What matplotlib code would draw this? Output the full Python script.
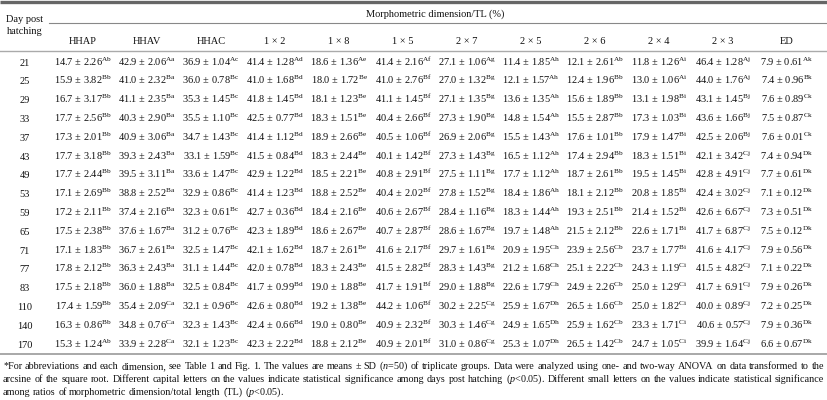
import matplotlib
matplotlib.use("Agg")
import matplotlib.pyplot as plt

plt.rcParams['font.family'] = ['Liberation Serif', 'DejaVu Serif']
plt.rcParams['mathtext.fontset'] = 'custom'
plt.rcParams['mathtext.rm'] = 'Liberation Serif'
plt.rcParams['mathtext.it'] = 'Liberation Serif:italic'
plt.rcParams['mathtext.bf'] = 'Liberation Serif:bold'

# ---------------- data ----------------
days = [21, 25, 29, 33, 37, 43, 49, 53, 59, 65, 71, 77, 83, 110, 140, 170]
col_labels = ["HHAP", "HHAV", "HHAC", "1 × 2", "1 × 8", "1 × 5", "2 × 7",
              "2 × 5", "2 × 6", "2 × 4", "2 × 3", "ED"]

HHAP = ["14.7 2.26 Ab", "15.9 3.82 Bb", "16.7 3.17 Bb", "17.7 2.56 Bb", "17.3 2.01 Bb", "17.7 3.18 Bb",
        "17.7 2.44 Bb", "17.1 2.69 Bb", "17.2 2.11 Bb", "17.5 2.38 Bb", "17.1 1.83 Bb", "17.8 2.12 Bb",
        "17.5 2.18 Bb", "17.4 1.59 Bb", "16.3 0.86 Bb", "15.3 1.24 Ab"]
HHAV = ["42.9 2.06 Aa", "41.0 2.32 Ba", "41.1 2.35 Ba", "40.3 2.90 Ba", "40.9 3.06 Ba", "39.3 2.43 Ba",
        "39.5 3.11 Ba", "38.8 2.52 Ba", "37.4 2.16 Ba", "37.6 1.67 Ba", "36.7 2.61 Ba", "36.3 2.43 Ba",
        "36.0 1.88 Ba", "35.4 2.09 Ca", "34.8 0.76 Ca", "33.9 2.28 Ca"]
HHAC = ["36.9 1.04 Ac", "36.0 0.78 Bc", "35.3 1.45 Bc", "35.5 1.10 Bc", "34.7 1.43 Bc", "33.1 1.59 Bc",
        "33.6 1.47 Bc", "32.9 0.86 Bc", "32.3 0.61 Bc", "31.2 0.76 Bc", "32.5 1.47 Bc", "31.1 1.44 Bc",
        "32.5 0.84 Bc", "32.1 0.96 Bc", "32.3 1.43 Bc", "32.1 1.23 Bc"]
R1x2 = ["41.4 1.28 Ad", "41.0 1.68 Bd", "41.8 1.45 Bd", "42.5 0.77 Bd", "41.4 1.12 Bd", "41.5 0.84 Bd",
        "42.9 1.22 Bd", "41.4 1.23 Bd", "42.7 0.36 Bd", "42.3 1.89 Bd", "42.1 1.62 Bd", "42.0 0.78 Bd",
        "41.7 0.99 Bd", "42.6 0.80 Bd", "42.4 0.66 Bd", "42.3 2.22 Bd"]
R1x8 = ["18.6 1.36 Ae", "18.0 1.72 Be", "18.1 1.23 Be", "18.3 1.51 Be", "18.9 2.66 Be", "18.3 2.44 Be",
        "18.5 2.21 Be", "18.8 2.52 Be", "18.4 2.16 Be", "18.6 2.67 Be", "18.7 2.61 Be", "18.3 2.43 Be",
        "19.0 1.88 Be", "19.2 1.38 Be", "19.0 0.80 Be", "18.8 2.12 Be"]
R1x5 = ["41.4 2.16 Af", "41.0 2.76 Bf", "41.1 1.45 Bf", "40.4 2.66 Bf", "40.5 1.06 Bf", "40.1 1.42 Bf",
        "40.8 2.91 Bf", "40.4 2.02 Bf", "40.6 2.67 Bf", "40.7 2.87 Bf", "41.6 2.17 Bf", "41.5 2.82 Bf",
        "41.7 1.91 Bf", "44.2 1.06 Bf", "40.9 2.32 Bf", "40.9 2.01 Bf"]
R2x7 = ["27.1 1.06 Ag", "27.0 1.32 Bg", "27.1 1.35 Bg", "27.3 1.90 Bg", "26.9 2.06 Bg", "27.3 1.43 Bg",
        "27.5 1.11 Bg", "27.8 1.52 Bg", "28.4 1.16 Bg", "28.6 1.67 Bg", "29.7 1.61 Bg", "28.3 1.43 Bg",
        "29.0 1.88 Bg", "30.2 2.25 Cg", "30.3 1.46 Cg", "31.0 0.86 Cg"]
R2x5 = ["11.4 1.85 Ah", "12.1 1.57 Ah", "13.6 1.35 Ah", "14.8 1.54 Ah", "15.5 1.43 Ah", "16.5 1.12 Ah",
        "17.7 1.12 Ah", "18.4 1.86 Ah", "18.3 1.44 Ah", "19.7 1.48 Ah", "20.9 1.95 Ch", "21.2 1.68 Ch",
        "22.6 1.79 Ch", "25.9 1.67 Dh", "24.9 1.65 Dh", "25.3 1.07 Dh"]
R2x6 = ["12.1 2.61 Ab", "12.4 1.96 Bb", "15.6 1.89 Bb", "15.5 2.87 Bb", "17.6 1.01 Bb", "17.4 2.94 Bb",
        "18.7 2.61 Bb", "18.1 2.12 Bb", "19.3 2.51 Bb", "21.5 2.12 Bb", "23.9 2.56 Cb", "25.1 2.22 Cb",
        "24.9 2.26 Cb", "26.5 1.66 Cb", "25.9 1.62 Cb", "26.5 1.42 Cb"]
R2x4 = ["11.8 1.26 Ai", "13.0 1.06 Ai", "13.1 1.98 Bi", "17.3 1.03 Bi", "17.9 1.47 Bi", "18.3 1.51 Bi",
        "19.5 1.45 Bi", "20.8 1.85 Bi", "21.4 1.52 Bi", "22.6 1.71 Bi", "23.7 1.77 Bi", "24.3 1.19 Ci",
        "25.0 1.29 Ci", "25.0 1.82 Ci", "23.3 1.71 Ci", "24.7 1.05 Ci"]
R2x3 = ["46.4 1.28 Aj", "44.0 1.76 Aj", "43.1 1.45 Bj", "43.6 1.66 Bj", "42.5 2.06 Bj", "42.1 3.42 Cj",
        "42.8 4.91 Cj", "42.4 3.02 Cj", "42.6 6.67 Cj", "41.7 6.87 Cj", "41.6 4.17 Cj", "41.5 4.82 Cj",
        "41.7 6.91 Cj", "40.0 0.89 Cj", "40.6 0.57 Cj", "39.9 1.64 Cj"]
ED = ["7.9 0.61 Ak", "7.4 0.96 Bk", "7.6 0.89 Ck", "7.5 0.87 Ck", "7.6 0.01 Ck", "7.4 0.94 Dk",
      "7.7 0.61 Dk", "7.1 0.12 Dk", "7.3 0.51 Dk", "7.5 0.12 Dk", "7.9 0.56 Dk", "7.1 0.22 Dk",
      "7.9 0.26 Dk", "7.2 0.25 Dk", "7.9 0.36 Dk", "6.6 0.67 Dk"]
columns = [HHAP, HHAV, HHAC, R1x2, R1x8, R1x5, R2x7, R2x5, R2x6, R2x4, R2x3, ED]

footnote = [
    "*For abbreviations and each dimension, see Table 1 and Fig. 1. The values are means ± SD ($\\mathit{n}$=50) of triplicate groups. Data were analyzed using one- and two-way ANOVA on data transformed to the",
    "arcsine of the square root. Different capital letters on the values indicate statistical significance among days post hatching ($\\mathit{p}$<0.05). Different small letters on the values indicate statistical significance",
    "among ratios of morphometric dimension/total length (TL) ($\\mathit{p}$<0.05).",
]

# ---------------- layout ----------------
W, H = 827, 400
fig = plt.figure(figsize=(W / 100, H / 100), dpi=100)
ax = fig.add_axes([0, 0, 1, 1])
ax.set_xlim(0, W)
ax.set_ylim(H, 0)
ax.axis('off')

FS = 7.5
TXT = '#111111'
day_x = 25
col_x0, col_dx = 83, 64
row_y0, row_dy = 62, 18.8
BL = 3.5  # baseline offset from row centre

# rules
ax.plot([0, W], [2, 2], color='#666666', lw=2.4, solid_capstyle='butt')
ax.plot([49, W], [23, 23], color='#888888', lw=0.8)
ax.plot([0, W], [51, 51], color='#aaaaaa', lw=1.0)
ax.plot([0, W], [354, 354], color='#999999', lw=1.2)

# header
ax.text(day_x, 18 + BL, "Day post", ha='center', va='baseline', fontsize=FS, color=TXT)
ax.text(day_x, 31 + BL, "hatching", ha='center', va='baseline', fontsize=FS, color=TXT)
ax.text(435, 13 + BL, "Morphometric dimension/TL (%)", ha='center', va='baseline', fontsize=FS, color=TXT)
for j, lab in enumerate(col_labels):
    ax.text(col_x0 + j * col_dx, 41 + BL, lab, ha='center', va='baseline', fontsize=FS, color=TXT)

# body
for i, d in enumerate(days):
    y = row_y0 + i * row_dy + BL
    ax.text(day_x, y, str(d), ha='center', va='baseline', fontsize=FS, color=TXT)
    for j, col in enumerate(columns):
        m, s, l = col[i].split()
        txt = f"{m} ± {s}$^{{\\mathrm{{{l}}}}}$"
        ax.text(col_x0 + j * col_dx, y, txt, ha='center', va='baseline', fontsize=FS, color=TXT)

# footnote (justified)
fig.canvas.draw()
renderer = fig.canvas.get_renderer()
left, right = 3, 824
foot_y = [369, 382, 395]


def natural_width(line, fs):
    t = ax.text(0, -50, line, fontsize=fs)
    w = t.get_window_extent(renderer).width
    t.remove()
    return w


FS_FOOT = 7.7
maxw = max(natural_width(l, FS_FOOT) for l in footnote[:2])
if maxw > (right - left) * 0.99:
    FS_FOOT = FS_FOOT * (right - left) * 0.99 / maxw

for k, line in enumerate(footnote):
    words = line.split(' ')
    objs = [ax.text(0, foot_y[k], w, ha='left', va='baseline', fontsize=FS_FOOT, color=TXT) for w in words]
    widths = [o.get_window_extent(renderer).width for o in objs]
    if k < len(footnote) - 1:
        gap = (right - left - sum(widths)) / (len(words) - 1)
    else:
        sp = ax.text(0, -50, "a a", fontsize=FS_FOOT)
        sp2 = ax.text(0, -50, "aa", fontsize=FS_FOOT)
        gap = sp.get_window_extent(renderer).width - sp2.get_window_extent(renderer).width
        sp.remove(); sp2.remove()
    x = left
    for o, w in zip(objs, widths):
        o.set_x(x)
        x += w + gap

fig.savefig("out.png", dpi=100)
